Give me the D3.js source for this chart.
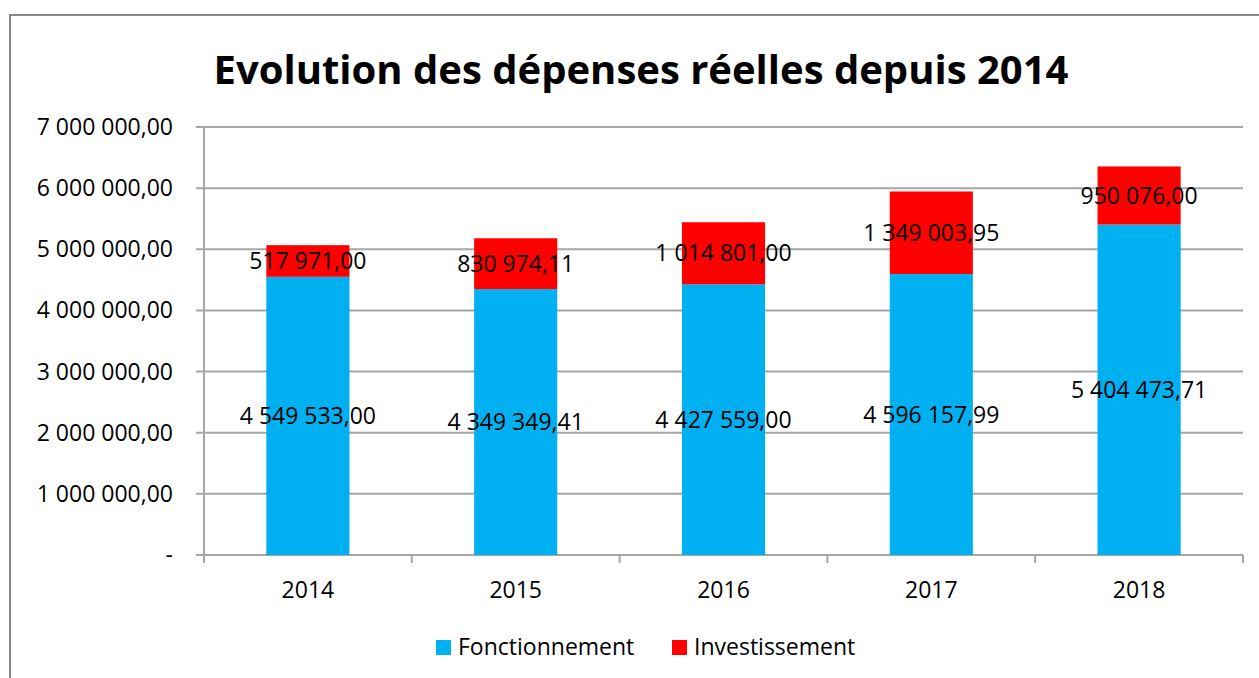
<!DOCTYPE html>
<html>
<head>
<meta charset="utf-8">
<script src="https://cdn.jsdelivr.net/npm/d3@7"></script>
<style>
  body { margin: 0; background: #fff; }
  svg { display: block; font-family: "Open Sans", sans-serif; }
</style>
</head>
<body>
<svg width="1259" height="678"></svg>
<script>
const years = ["2014", "2015", "2016", "2017", "2018"];
const fonctionnement = [4549533.00, 4349349.41, 4427559.00, 4596157.99, 5404473.71];
const investissement = [517971.00, 830974.11, 1014801.00, 1349003.95, 950076.00];
const seriesNames = ["Fonctionnement", "Investissement"];
const colors = ["#00B0F0", "#FF0000"];
const yTicks = [0, 1000000, 2000000, 3000000, 4000000, 5000000, 6000000, 7000000];

const svg = d3.select("svg");
const width = +svg.attr("width");
const height = +svg.attr("height");
const fontSize = 23;

// french number format: space thousands, comma decimals
const locale = d3.formatLocale({decimal: ",", thousands: "\u00a0", grouping: [3], currency: ["", ""]});
const fmt = v => v === 0 ? "-" : locale.format(",.2f")(v).replace(/\u00a0/g, " ");

// outer frame (cut off on right/bottom like the source)
svg.append("rect")
    .attr("x", 10).attr("y", 15)
    .attr("width", 1400).attr("height", 800)
    .attr("fill", "none")
    .attr("stroke", "#888")
    .attr("stroke-width", 2);

// title
svg.append("text")
    .attr("x", 641).attr("y", 84)
    .attr("text-anchor", "middle")
    .attr("font-size", 40)
    .attr("font-weight", "bold")
    .text("Evolution des dépenses réelles depuis 2014");

const plot = {left: 204, right: 1243, top: 127, bottom: 555};

const x = d3.scaleBand()
    .domain(years)
    .range([plot.left, plot.right])
    .paddingInner(0.6)
    .paddingOuter(0.3);

const y = d3.scaleLinear()
    .domain([0, 7000000])
    .range([plot.bottom, plot.top]);

// gridlines
svg.append("g")
    .selectAll("line")
    .data(yTicks)
    .join("line")
    .attr("x1", plot.left - 8)
    .attr("x2", plot.right)
    .attr("y1", d => y(d))
    .attr("y2", d => y(d))
    .attr("stroke", "#A6A6A6")
    .attr("stroke-width", 2);

// y labels
svg.append("g")
    .selectAll("text")
    .data(yTicks)
    .join("text")
    .attr("x", 173)
    .attr("y", d => y(d))
    .attr("dy", "0.35em")
    .attr("text-anchor", "end")
    .attr("font-size", fontSize)
    .text(d => fmt(d));

// stacked bars
const rows = years.map((yr, i) => ({year: yr, Fonctionnement: fonctionnement[i], Investissement: investissement[i]}));
const stacked = d3.stack().keys(seriesNames)(rows);

const layers = svg.append("g")
    .selectAll("g")
    .data(stacked)
    .join("g")
    .attr("fill", (d, i) => colors[i]);

layers.selectAll("rect")
    .data(d => d)
    .join("rect")
    .attr("x", d => x(d.data.year))
    .attr("width", x.bandwidth())
    .attr("y", d => y(d[1]))
    .attr("height", d => y(d[0]) - y(d[1]));

// value labels centered in each segment
layers.selectAll("text")
    .data(d => d.map(p => ({p, key: d.key})))
    .join("text")
    .attr("x", d => x(d.p.data.year) + x.bandwidth() / 2)
    .attr("y", d => y((d.p[0] + d.p[1]) / 2))
    .attr("dy", "0.35em")
    .attr("text-anchor", "middle")
    .attr("font-size", fontSize)
    .attr("fill", "#000")
    .text(d => fmt(d.p.data[d.key]));

// y axis line
svg.append("line")
    .attr("x1", plot.left).attr("x2", plot.left)
    .attr("y1", plot.top).attr("y2", plot.bottom + 8)
    .attr("stroke", "#A6A6A6").attr("stroke-width", 2);

// x category separator ticks
svg.append("g")
    .selectAll("line")
    .data(d3.range(years.length + 1))
    .join("line")
    .attr("x1", i => plot.left + i * (plot.right - plot.left) / years.length)
    .attr("x2", i => plot.left + i * (plot.right - plot.left) / years.length)
    .attr("y1", plot.bottom)
    .attr("y2", plot.bottom + 8)
    .attr("stroke", "#A6A6A6").attr("stroke-width", 2);

// x labels
svg.append("g")
    .selectAll("text")
    .data(years)
    .join("text")
    .attr("x", d => x(d) + x.bandwidth() / 2)
    .attr("y", 590)
    .attr("dy", "0.35em")
    .attr("text-anchor", "middle")
    .attr("font-size", fontSize)
    .text(d => d);

// legend
const legendX = [436, 672];
const legend = svg.append("g")
    .selectAll("g")
    .data(seriesNames)
    .join("g")
    .attr("transform", (d, i) => `translate(${legendX[i]},647)`);

legend.append("rect")
    .attr("x", 0).attr("y", -7)
    .attr("width", 15).attr("height", 15)
    .attr("fill", (d, i) => colors[i]);

legend.append("text")
    .attr("x", 22)
    .attr("dy", "0.35em")
    .attr("font-size", fontSize)
    .text(d => d);
</script>
</body>
</html>
